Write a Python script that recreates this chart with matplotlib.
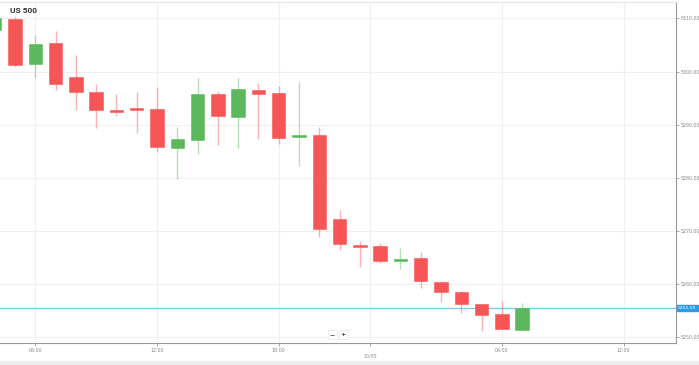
import numpy as np
import matplotlib
matplotlib.use("Agg")
import matplotlib.pyplot as plt

# hourly candles, 29/05 04:00 -> 30/05 07:00 (one hour break at night)
hours = ["04:00", "05:00", "06:00", "07:00", "08:00", "09:00", "10:00", "11:00",
         "12:00", "13:00", "14:00", "15:00", "16:00", "17:00", "18:00", "19:00",
         "20:00", "21:00", "23:00", "00:00", "01:00", "02:00", "03:00", "04:00",
         "05:00", "06:00", "07:00"]
opens = [5307.8, 5309.8, 5301.5, 5305.4, 5299.0, 5296.2, 5292.8, 5293.2, 5293.0,
         5285.6, 5287.2, 5295.7, 5291.4, 5296.5, 5296.0, 5287.7, 5288.1, 5272.3,
         5267.4, 5267.2, 5264.4, 5264.9, 5260.4, 5258.5, 5256.2, 5254.4, 5251.4]
highs = [5311.0, 5310.2, 5306.9, 5307.6, 5303.2, 5297.6, 5295.8, 5296.2, 5297.1,
         5289.6, 5298.7, 5296.3, 5298.7, 5297.8, 5297.3, 5298.0, 5289.5, 5273.9,
         5268.1, 5267.8, 5266.8, 5266.0, 5260.6, 5258.8, 5256.2, 5256.9, 5256.5]
lows = [5306.0, 5300.8, 5298.8, 5296.6, 5292.7, 5289.4, 5291.6, 5288.4, 5284.8,
        5279.7, 5284.4, 5286.1, 5285.6, 5287.3, 5286.4, 5282.2, 5268.9, 5266.4,
        5263.3, 5263.9, 5262.9, 5259.3, 5256.6, 5254.6, 5251.2, 5251.5, 5251.4]
closes = [5310.0, 5301.3, 5305.2, 5297.6, 5296.1, 5292.8, 5292.3, 5292.7, 5285.8,
          5287.3, 5295.8, 5291.6, 5296.8, 5295.8, 5287.5, 5288.1, 5270.3, 5267.6,
          5267.0, 5264.3, 5264.8, 5260.5, 5258.5, 5256.2, 5254.2, 5251.5, 5255.5]
last_price = 5255.5

tick_labels = ["06:00", "12:00", "18:00", "06:00", "12:00"]
tick_index = [1, 7, 13, 24, 30]
day_label = "30/05"
day_index = 17.5

red = "#f75656"
green = "#5cb85c"

x = np.arange(len(hours)) - 1  # first candle is partly off screen
opens = np.array(opens)
closes = np.array(closes)
up = closes >= opens
colors = np.where(up, green, red)

fig = plt.figure(figsize=(6.99, 3.65), dpi=100)
fig.patch.set_facecolor("white")
ax = fig.add_axes([0, 0.0603, 0.967, 0.934])

# grid
for yv in range(5250, 5320, 10):
    ax.axhline(yv, color="#f0f0f0", lw=0.8, zorder=0)
for xv in tick_index + [day_index]:
    ax.axvline(xv, color="#f0f0f0", lw=0.8, zorder=0)

# wicks and bodies
ax.vlines(x, lows, highs, colors=colors, lw=1, alpha=0.45, zorder=2)
body_h = np.maximum(np.abs(closes - opens), 0.35)
ax.bar(x, body_h, bottom=np.minimum(opens, closes), width=0.66,
       color=colors, edgecolor=colors, linewidth=0.4, zorder=3)

# last price line
ax.axhline(last_price, color="#7ec4f0", lw=0.9, zorder=1)
ax.text(1.003, last_price, f"{last_price:.2f}", transform=ax.get_yaxis_transform(),
        fontsize=3.2, color="white", va="center", ha="left", zorder=5,
        bbox=dict(boxstyle="square,pad=0.3", fc="#2d9be8", ec="#2d9be8"),
        clip_on=False)

ax.set_xlim(-0.74, 32.58)
ax.set_ylim(5248.93, 5313.07)

ax.yaxis.tick_right()
ax.set_yticks(range(5250, 5320, 10))
ax.set_yticklabels([f"{v:.2f}" for v in range(5250, 5320, 10)])
ax.set_xticks(tick_index + [day_index])
ax.set_xticklabels(tick_labels + ["\n" + day_label])
ax.tick_params(axis="both", labelsize=3.4, colors="#999999", length=2,
               width=0.6, pad=1.5)
ax.tick_params(axis="y", labelcolor="#888888")
ax.tick_params(axis="x", labelcolor="#888888")

ax.spines["left"].set_visible(False)
ax.spines["top"].set_color("#e6e6e6")
ax.spines["right"].set_color("#9a9a9a")
ax.spines["bottom"].set_color("#9a9a9a")
for s in ax.spines.values():
    s.set_linewidth(0.8)

fig.text(10 / 699, 1 - 7 / 365, "US 500", fontsize=6, family="Roboto",
         fontweight="bold", color="#333333", va="top", ha="left")

# zoom buttons
for bx, sym in [(332, "\u2212"), (343, "+")]:
    fig.text(bx / 699, 1 - 334.5 / 365, sym, fontsize=4.5, color="#444444",
             ha="center", va="center", fontweight="bold",
             bbox=dict(boxstyle="square,pad=0.3", fc="white", ec="#e8e8e8", lw=0.5))

# grey strip at the very bottom
fig.patches.append(plt.Rectangle((0, 0), 1, 4 / 365, transform=fig.transFigure,
                                 color="#eeeeee", zorder=0))

fig.savefig("out.png", dpi=100)
